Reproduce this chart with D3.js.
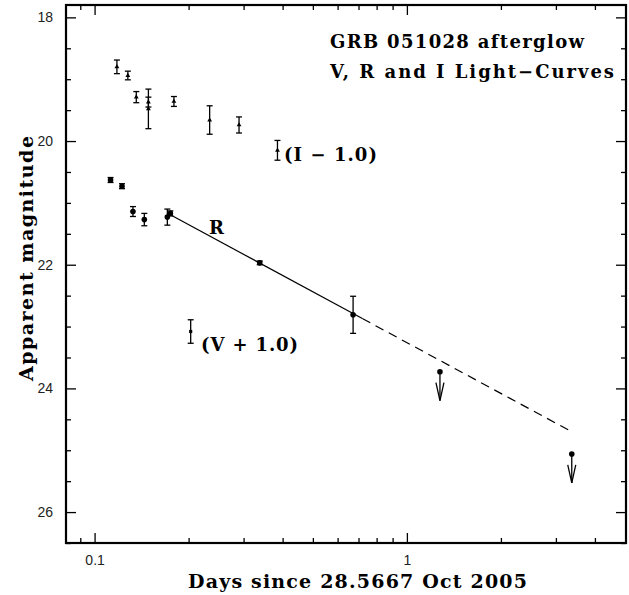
<!DOCTYPE html>
<html>
<head>
<meta charset="utf-8">
<script src="https://cdn.jsdelivr.net/npm/d3@7"></script>
<style>
body { margin: 0; background: #fff; }
svg { display: block; }
</style>
</head>
<body>
<svg width="629" height="595"></svg>
<script>
var width = 629;
var height = 595;

// R band detections (days, mag, error)
var rTimes = [0.1125, 0.1224, 0.1327, 0.1443, 0.1710, 0.1748, 0.3379, 0.6726];
var rMags = [20.63, 20.73, 21.14, 21.27, 21.23, 21.17, 21.97, 22.81];
var rErrs = [0.04, 0.04, 0.08, 0.10, 0.13, 0.04, 0.03, 0.30];

// R band upper limits
var rLimTimes = [1.276, 3.372];
var rLimMags = [23.73, 25.06];

// I band (plotted as I - 1.0)
var iOffset = -1.0;
var iTimes = [0.1179, 0.1278, 0.1360, 0.1487, 0.1487, 0.1795, 0.2336, 0.2901, 0.3851];
var iMags = [19.80, 19.94, 20.29, 20.37, 20.48, 20.36, 20.66, 20.74, 21.15];
var iErrs = [0.11, 0.07, 0.09, 0.08, 0.32, 0.08, 0.23, 0.13, 0.16];

// V band (plotted as V + 1.0)
var vOffset = 1.0;
var vTimes = [0.2031];
var vMags = [22.08];
var vErrs = [0.19];

// power-law fit to R, solid part and extrapolation
var fitSolidTimes = [0.176, 0.72];
var fitSolidMags = [21.20, 22.87];
var fitDashTimes = [0.72, 3.37];
var fitDashMags = [22.87, 24.70];

// ticks
var xMajor = [0.1, 1];
var xMajorLabels = ['0.1', '1'];
var xMinor = [0.09, 0.2, 0.3, 0.4, 0.5, 0.6, 0.7, 0.8, 0.9, 2, 3, 4];
var yMajor = [18, 20, 22, 24, 26];
var yMinor = [18.5, 19, 19.5, 20.5, 21, 21.5, 22.5, 23, 23.5, 24.5, 25, 25.5, 26.5];

// plot box (pixels)
var pLeft = 66, pTop = 5, pRight = 626, pBottom = 543;

var x = d3.scaleLog().domain([0.081, 5.03]).range([pLeft, pRight]);
var y = d3.scaleLinear().domain([17.8, 26.5]).range([pTop, pBottom]);

var svg = d3.select('svg');

function zip(t, m, e, off) {
	return t.map(function(d, i) {
		return {t: d, m: m[i] + (off || 0), e: e ? e[i] : 0};
	});
}

// axes: major and minor ticks, pointing inward, on all four sides
function addAxis(axis, tr) {
	var g = svg.append('g').attr('transform', tr).call(axis);
	g.select('.domain').remove();
	g.selectAll('line').attr('stroke', '#000').attr('stroke-width', 1.3);
	g.selectAll('text').attr('font-family', '"Liberation Sans", Arial, sans-serif')
		.attr('font-size', 14).attr('fill', '#222');
	return g;
}

addAxis(d3.axisBottom(x).tickValues(xMajor).tickSizeInner(-10).tickSizeOuter(0).tickPadding(12)
	.tickFormat(function(d, i) { return xMajorLabels[i]; }), 'translate(0,' + pBottom + ')');
addAxis(d3.axisBottom(x).tickValues(xMinor).tickSizeInner(-5).tickSizeOuter(0).tickFormat(''),
	'translate(0,' + pBottom + ')');
addAxis(d3.axisTop(x).tickValues(xMajor).tickSizeInner(-10).tickSizeOuter(0).tickFormat(''),
	'translate(0,' + pTop + ')');
addAxis(d3.axisTop(x).tickValues(xMinor).tickSizeInner(-5).tickSizeOuter(0).tickFormat(''),
	'translate(0,' + pTop + ')');
addAxis(d3.axisLeft(y).tickValues(yMajor).tickSizeInner(-10).tickSizeOuter(0).tickPadding(13)
	.tickFormat(d3.format('d')), 'translate(' + pLeft + ',0)');
addAxis(d3.axisLeft(y).tickValues(yMinor).tickSizeInner(-5).tickSizeOuter(0).tickFormat(''),
	'translate(' + pLeft + ',0)');
addAxis(d3.axisRight(y).tickValues(yMajor).tickSizeInner(-10).tickSizeOuter(0).tickFormat(''),
	'translate(' + pRight + ',0)');
addAxis(d3.axisRight(y).tickValues(yMinor).tickSizeInner(-5).tickSizeOuter(0).tickFormat(''),
	'translate(' + pRight + ',0)');

// frame
svg.append('rect')
	.attr('x', pLeft).attr('y', pTop)
	.attr('width', pRight - pLeft).attr('height', pBottom - pTop)
	.attr('fill', 'none').attr('stroke', '#000').attr('stroke-width', 2.2);

// fit line
var line = d3.line().x(function(d) { return x(d.t); }).y(function(d) { return y(d.m); });
svg.append('path').datum(zip(fitSolidTimes, fitSolidMags))
	.attr('d', line).attr('fill', 'none').attr('stroke', '#000').attr('stroke-width', 1.2);
svg.append('path').datum(zip(fitDashTimes, fitDashMags))
	.attr('d', line).attr('fill', 'none').attr('stroke', '#000').attr('stroke-width', 1.2)
	.attr('stroke-dasharray', '9,6');

// error bars
function errorBars(data) {
	var g = svg.append('g').attr('stroke', '#000').attr('stroke-width', 1.3);
	data.forEach(function(d) {
		var cx = x(d.t), y1 = y(d.m - d.e), y2 = y(d.m + d.e);
		g.append('line').attr('x1', cx).attr('x2', cx).attr('y1', y1).attr('y2', y2);
		g.append('line').attr('x1', cx - 3).attr('x2', cx + 3).attr('y1', y1).attr('y2', y1);
		g.append('line').attr('x1', cx - 3).attr('x2', cx + 3).attr('y1', y2).attr('y2', y2);
	});
}

var rData = zip(rTimes, rMags, rErrs);
var iData = zip(iTimes, iMags, iErrs, iOffset);
var vData = zip(vTimes, vMags, vErrs, vOffset);
var limData = zip(rLimTimes, rLimMags);

errorBars(rData);
errorBars(iData);
errorBars(vData);

svg.append('g').selectAll('circle').data(rData).enter().append('circle')
	.attr('cx', function(d) { return x(d.t); })
	.attr('cy', function(d) { return y(d.m); })
	.attr('r', 2.8).attr('fill', '#000');

svg.append('g').selectAll('path').data(iData).enter().append('path')
	.attr('d', d3.symbol().type(d3.symbolTriangle).size(10))
	.attr('transform', function(d) { return 'translate(' + x(d.t) + ',' + y(d.m) + ')'; })
	.attr('fill', '#000');

svg.append('g').selectAll('path').data(vData).enter().append('path')
	.attr('d', d3.symbol().type(d3.symbolSquare).size(10))
	.attr('transform', function(d) { return 'translate(' + x(d.t) + ',' + y(d.m) + ')'; })
	.attr('fill', '#000');

// upper limits: dot with a downward arrow
var lim = svg.append('g').selectAll('g').data(limData).enter().append('g')
	.attr('transform', function(d) { return 'translate(' + x(d.t) + ',' + y(d.m) + ')'; });
lim.append('circle').attr('r', 2.8).attr('fill', '#000');
lim.append('line').attr('x1', 0).attr('x2', 0).attr('y1', 0).attr('y2', 29)
	.attr('stroke', '#000').attr('stroke-width', 1.3);
lim.append('path').attr('d', 'M-4,11 L0,29 L4,11')
	.attr('fill', 'none').attr('stroke', '#000').attr('stroke-width', 1.3);

// text
var serif = '"DejaVu Serif", "Liberation Serif", serif';
function label(txt, px, py, len, size, rot) {
	var t = svg.append('text')
		.attr('x', px).attr('y', py)
		.attr('font-family', serif).attr('font-weight', 'bold')
		.attr('font-size', size).attr('fill', '#000')
		.text(txt);
	if (len) t.attr('textLength', len).attr('lengthAdjust', 'spacing');
	if (rot) t.attr('transform', 'rotate(' + rot + ',' + px + ',' + py + ')');
	return t;
}

label('GRB 051028 afterglow', 330, 48, 254, 18);
label('V, R and I Light\u2212Curves', 330, 78, 284, 18);
label('(I \u2212 1.0)', 284, 161, 93, 18);
label('R', 209, 234, null, 18);
label('(V + 1.0)', 201, 351, 97, 18);
label('Days since 28.5667 Oct 2005', 188, 588, 339, 19);
label('Apparent magnitude', 33, 381, 245, 19, -90);
</script>
</body>
</html>
